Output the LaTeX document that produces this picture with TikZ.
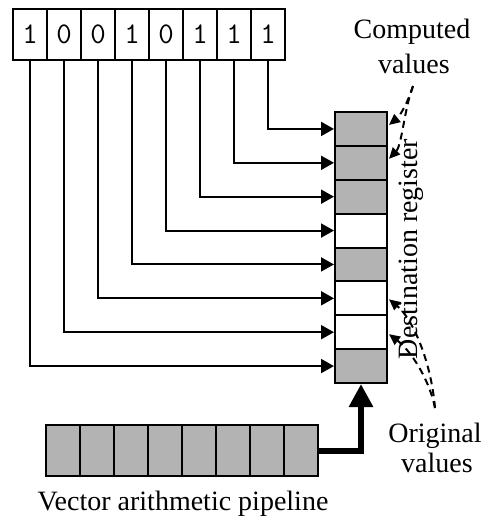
\documentclass[tikz,border=0pt]{standalone}
\usepackage{fontspec}
\setmainfont{Liberation Serif}
\usetikzlibrary{arrows.meta}
\definecolor{cellgray}{RGB}{179,179,179}
\tikzset{
  cell/.style={draw, line width=2pt, minimum width=#1, inner sep=0pt},
  maskbit/.style={cell=34pt, minimum height=51pt, font=\ttfamily\fontsize{30}{30}\selectfont},
  regcell/.style={cell=52pt, minimum height=33.875pt},
  pipecell/.style={cell=34pt, minimum height=51pt, fill=cellgray},
  conn/.style={line width=2pt, -{Triangle[length=13pt,width=14pt]}},
  note/.style={dashed, dash pattern=on 7pt off 5pt, line width=2pt, -{Triangle[length=11pt,width=10pt]}},
  lbl/.style={font=\fontsize{28}{35}\selectfont, inner sep=0pt, anchor=base}
}
\begin{document}
\begin{tikzpicture}[x=1pt,y=-1pt]
\useasboundingbox (0,0) rectangle (482,517);

% mask register bits
\foreach \b [count=\i] in {1,0,0,1,0,1,1,1}
  \node[maskbit] (m\i) at ({13+34*(\i-0.5)},34.5) {\b};

% destination register: cell 1 at the top
\foreach \f [count=\i] in {cellgray,cellgray,cellgray,white,cellgray,white,white,cellgray}
  \node[regcell, fill=\f] (r\i) at (361,{112+33.875*(\i-0.5)}) {};

% vector arithmetic pipeline stages
\foreach \i in {1,...,8}
  \node[pipecell] (p\i) at ({46+34*(\i-0.5)},450.5) {};

% each mask bit routes to its register cell
\foreach \i in {1,...,8} {
  \pgfmathtruncatemacro{\j}{9-\i}
  \draw[conn] (m\i.south) |- (r\j.west);
}

% pipeline output into the register
\draw[line width=6pt, -{Triangle[length=23pt,width=23pt]}] (p8.east) -| (r8.south);

% labels
\node[lbl] (comp) at (412,38) {Computed};
\node[lbl] (compv) at (414,73) {values};
\node[lbl] (orig) at (435,442) {Original};
\node[lbl] (origv) at (437,472) {values};
\node[lbl] (pipe) at (183,510) {Vector arithmetic pipeline};
\node[lbl, rotate=90] (dest) at (417,249) {Destination register};

% pointers from the labels to the register cells
\coordinate (cs) at (413,86);
\coordinate (os) at (435,408);
\draw[note] (cs) .. controls (409,100) and (400,116) .. ([shift={(1,-4)}]r1.east);
\draw[note] (cs) .. controls (404,110) and (402,145) .. ([shift={(1,-4)}]r2.east);
\draw[note] (os) .. controls (431,360) and (412,318) .. ([shift={(1,1)}]r6.east);
\draw[note] (os) .. controls (429,378) and (410,350) .. ([shift={(1,2)}]r7.east);
\end{tikzpicture}
\end{document}
